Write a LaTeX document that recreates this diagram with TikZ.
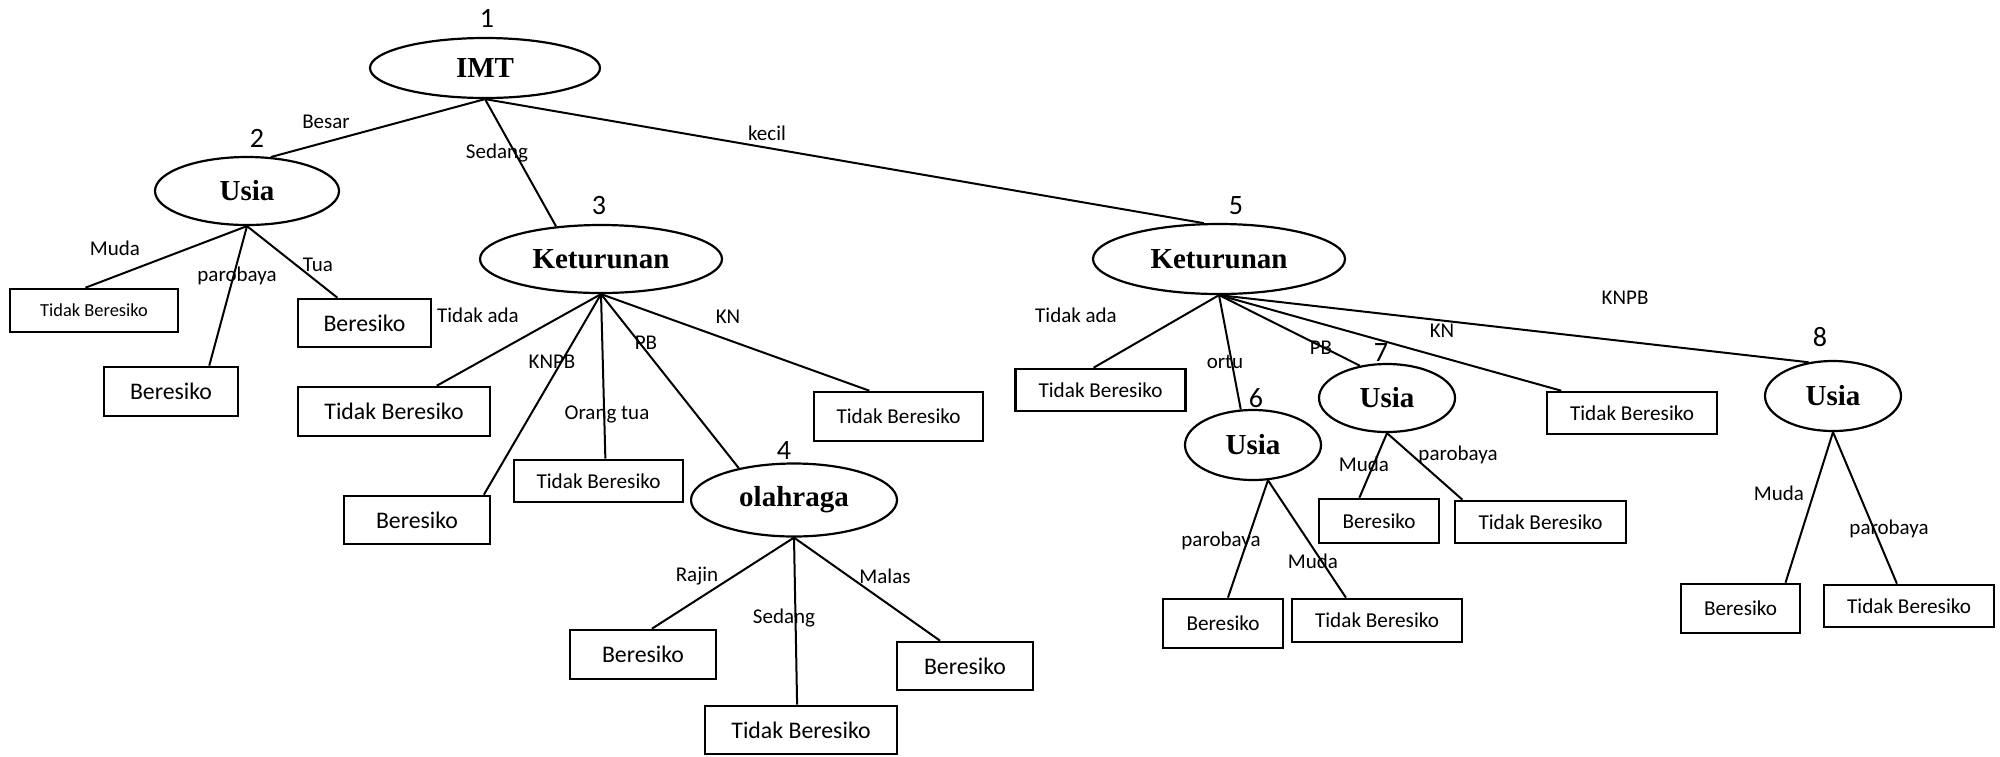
\documentclass[tikz,border=0pt]{standalone}
\usepackage{fontspec}
\setmainfont{Carlito}
\newfontfamily\titlefont{Liberation Serif}
\usetikzlibrary{shapes.geometric,calc}

\begin{document}
\begin{tikzpicture}[x=0.5pt,y=-0.5pt,
  attr/.style={ellipse,draw,line width=1.1pt,inner sep=0pt,
    font=\titlefont\fontsize{14.5}{16}\selectfont\bfseries},
  leaf/.style={rectangle,draw,line width=1.3pt,inner sep=0pt,
    font=\fontsize{10.6}{12}\selectfont},
  leafbig/.style={leaf,font=\fontsize{11.9}{13}\selectfont},
  leafsmall/.style={leaf,font=\fontsize{9.2}{11}\selectfont},
  branch/.style={line width=1pt},
  lbl/.style={inner sep=0pt,font=\fontsize{10.5}{12}\selectfont},
  num/.style={inner sep=0pt,font=\fontsize{14}{16}\selectfont}]

\useasboundingbox (0,0) rectangle (2000,756);

% decision nodes
\node[attr,minimum width=115pt,minimum height=30pt] (imt) at (485,68) {IMT};
\node[attr,minimum width=92pt,minimum height=34pt] (u2) at (247,191) {Usia};
\node[attr,minimum width=121pt,minimum height=34pt] (k3) at (601,259) {Keturunan};
\node[attr,minimum width=103pt,minimum height=36.5pt] (ol) at (794,500) {olahraga};
\node[attr,minimum width=126pt,minimum height=35pt] (k5) at (1219,259) {Keturunan};
\node[attr,minimum width=68pt,minimum height=35pt] (u6) at (1253,445) {Usia};
\node[attr,minimum width=68pt,minimum height=34pt] (u7) at (1387,398) {Usia};
\node[attr,minimum width=68pt,minimum height=35pt] (u8) at (1833,396) {Usia};

% node numbers
\node[num] (n1) at (487,18) {1};
\node[num] (n2) at (257,138) {2};
\node[num] (n3) at (599,206) {3};
\node[num] (n4) at (784,450) {4};
\node[num] (n5) at (1236,206) {5};
\node[num] (n6) at (1256,398) {6};
\node[num] (n7) at (1381,353) {7};
\node[num] (n8) at (1820,337) {8};

% leaves
\node[leafsmall,minimum width=84pt,minimum height=21.5pt] (b1) at (94,310.5) {Tidak Beresiko};
\node[leafbig,minimum width=67pt,minimum height=24.5pt] (b2) at (171,391.5) {Beresiko};
\node[leafbig,minimum width=66.5pt,minimum height=24pt] (b3) at (364.5,323) {Beresiko};
\node[leafbig,minimum width=96pt,minimum height=24.5pt] (b4) at (394,411.5) {Tidak Beresiko};
\node[leafbig,minimum width=73pt,minimum height=24pt] (b5) at (417,520) {Beresiko};
\node[leaf,minimum width=84.5pt,minimum height=21pt] (b6) at (598.5,481) {Tidak Beresiko};
\node[leaf,minimum width=84.5pt,minimum height=24.5pt] (b7) at (898.5,416.5) {Tidak Beresiko};
\node[leafbig,minimum width=73pt,minimum height=24.5pt] (b8) at (643,654.5) {Beresiko};
\node[leafbig,minimum width=96pt,minimum height=24pt] (b9) at (801,730) {Tidak Beresiko};
\node[leafbig,minimum width=68pt,minimum height=24pt] (b10) at (965,666) {Beresiko};
\node[leaf,minimum width=85pt,minimum height=21pt] (b11) at (1100.5,390) {Tidak Beresiko};
\node[leaf,minimum width=85pt,minimum height=21pt] (b12) at (1632,413) {Tidak Beresiko};
\node[leaf,minimum width=60pt,minimum height=24.5pt] (b13) at (1223,623.5) {Beresiko};
\node[leaf,minimum width=85pt,minimum height=21.5pt] (b14) at (1377,620.5) {Tidak Beresiko};
\node[leaf,minimum width=60pt,minimum height=22pt] (b15) at (1379,521) {Beresiko};
\node[leaf,minimum width=85.5pt,minimum height=21pt] (b16) at (1540.5,522) {Tidak Beresiko};
\node[leaf,minimum width=59.5pt,minimum height=24.5pt] (b17) at (1740.5,608.5) {Beresiko};
\node[leaf,minimum width=85pt,minimum height=21pt] (b18) at (1909,606) {Tidak Beresiko};

% branches
\draw[branch] (imt.south) -- (u2.55);
\draw[branch] (imt.south) -- (k3.144);
\draw[branch] (imt.south) -- (k5.113);

\draw[branch] (u2.south) -- ($(b1.north west)!0.45!(b1.north east)$);
\draw[branch] (u2.south) -- ($(b2.north west)!0.78!(b2.north east)$);
\draw[branch] (u2.south) -- ($(b3.north west)!0.30!(b3.north east)$);

\draw[branch] (k3.south) -- ($(b4.north west)!0.72!(b4.north east)$);
\draw[branch] (k3.south) -- ($(b5.north west)!0.95!(b5.north east)$);
\draw[branch] (k3.south) -- ($(b6.north west)!0.54!(b6.north east)$);
\draw[branch] (k3.south) -- (ol.150);
\draw[branch] (k3.south) -- ($(b7.north west)!0.33!(b7.north east)$);

\draw[branch] (ol.south) -- ($(b8.north west)!0.56!(b8.north east)$);
\draw[branch] (ol.south) -- ($(b9.north west)!0.48!(b9.north east)$);
\draw[branch] (ol.south) -- ($(b10.north west)!0.32!(b10.north east)$);

\draw[branch] (k5.south) -- ($(b11.north west)!0.46!(b11.north east)$);
\draw[branch] (k5.south) -- (u6.109);
\draw[branch] (k5.south) -- (u7.130);
\draw[branch] (k5.south) -- ($(b12.north west)!0.09!(b12.north east)$);
\draw[branch] (k5.south) -- (u8.126);

\draw[branch] (u6.293) -- ($(b13.north west)!0.54!(b13.north east)$);
\draw[branch] (u6.293) -- ($(b14.north west)!0.32!(b14.north east)$);

\draw[branch] (u7.south) -- ($(b15.north west)!0.34!(b15.north east)$);
\draw[branch] (u7.south) -- ($(b16.north west)!0.05!(b16.north east)$);

\draw[branch] (u8.south) -- ($(b17.north west)!0.87!(b17.north east)$);
\draw[branch] (u8.south) -- ($(b18.north west)!0.43!(b18.north east)$);

% branch labels
\node[lbl] (l1) at (326,122) {Besar};
\node[lbl] (l2) at (497,153) {Sedang};
\node[lbl] (l3) at (767,133) {kecil};
\node[lbl] (l4) at (115,248) {Muda};
\node[lbl] (l5) at (237,276) {parobaya};
\node[lbl] (l6) at (318,265) {Tua};
\node[lbl] (l7) at (478,315) {Tidak ada};
\node[lbl] (l8) at (552,362) {KNPB};
\node[lbl] (l9) at (646,343) {PB};
\node[lbl] (l10) at (728,317) {KN};
\node[lbl] (l11) at (607,414) {Orang tua};
\node[lbl] (l12) at (697,576) {Rajin};
\node[lbl] (l13) at (784,618) {Sedang};
\node[lbl] (l14) at (885,576) {Malas};
\node[lbl] (l15) at (1076,315) {Tidak ada};
\node[lbl] (l16) at (1225,362) {ortu};
\node[lbl] (l17) at (1321,348) {PB};
\node[lbl] (l18) at (1442,331) {KN};
\node[lbl] (l19) at (1625,298) {KNPB};
\node[lbl] (l20) at (1364,464) {Muda};
\node[lbl] (l21) at (1458,455) {parobaya};
\node[lbl] (l22) at (1221,541) {parobaya};
\node[lbl] (l23) at (1313,561) {Muda};
\node[lbl] (l24) at (1779,493) {Muda};
\node[lbl] (l25) at (1889,529) {parobaya};

\end{tikzpicture}
\end{document}
